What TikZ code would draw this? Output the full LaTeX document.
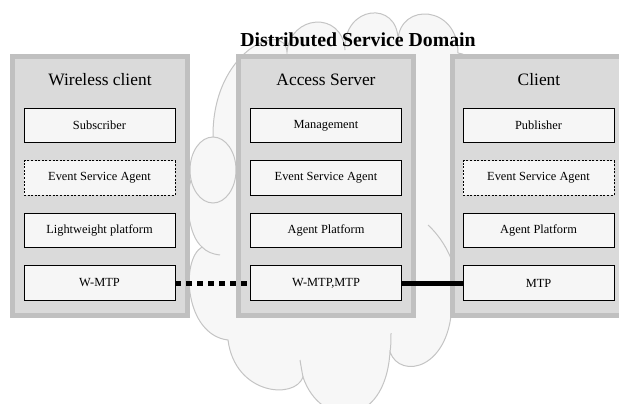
\documentclass[tikz,border=0pt]{standalone}
\usepackage{fontspec}
\setmainfont{Liberation Serif}

\definecolor{hostfill}{HTML}{DADADA}
\definecolor{hostrim}{HTML}{C0C0C0}
\definecolor{layerfill}{HTML}{F6F6F6}
\definecolor{cloudfill}{HTML}{F7F7F7}
\definecolor{cloudline}{HTML}{C4C4C4}

\tikzset{
  host/.style={draw=hostrim, fill=hostfill, line width=5pt, minimum width=175pt, minimum height=259pt, inner sep=0pt},
  hosttitle/.style={anchor=base, font=\fontsize{17.4}{20}\selectfont},
  layer/.style={draw=black, fill=layerfill, line width=0.9pt, minimum width=151pt, minimum height=34.5pt, inner sep=0pt, font=\fontsize{12.4}{14}\selectfont},
  agentlayer/.style={layer, dash pattern=on 2pt off 1.6pt},
  cloud/.style={draw=cloudline, fill=cloudfill, line width=1pt},
  cloudstroke/.style={draw=cloudline, line width=1pt},
}

\begin{document}
\begin{tikzpicture}[x=1pt,y=-1pt]
  \clip (0,0) rectangle (619,404);

  % service domain cloud
  \draw[cloud] (213,137)
    .. controls (212,50) and (285,20) .. (287,52)
    .. controls (290,15) and (342,10) .. (345,50)
    .. controls (343,5) and (398,0) .. (398,40)
    .. controls (400,2) and (458,5) .. (458,53)
    .. controls (500,60) and (500,140) .. (470,150)
    .. controls (505,180) and (495,260) .. (452,300)
    .. controls (452,370) and (400,380) .. (390,352)
    .. controls (385,430) and (320,428) .. (303,377)
    .. controls (295,400) and (235,395) .. (228,340)
    .. controls (185,335) and (180,260) .. (202,247)
    .. controls (188,235) and (185,200) .. (191,180)
    -- cycle;
  \draw[cloud] (213,170) ellipse [x radius=23pt, y radius=33pt];
  \draw[cloudstroke] (202,247) .. controls (207,252) and (212,254) .. (220,255);
  \draw[cloudstroke] (391,333) .. controls (391,340) and (391,346) .. (390,352);
  \draw[cloudstroke] (300,360) .. controls (301,366) and (302,372) .. (303,377);
  \draw[cloudstroke] (428,225) .. controls (440,236) and (450,252) .. (455,270);

  % hosts
  \node[host] (wclient) at (100,186) {};
  \node[host] (aserver) at (326,186) {};
  \node[host] (client) at (540,186) {};
  \node[hosttitle] (wtitle) at (100,85) {Wireless client};
  \node[hosttitle] (atitle) at (326,85) {Access Server};
  \node[hosttitle] (ctitle) at (539,85) {Client};

  % layers of the wireless client
  \node[layer] (wsub) at (99.5,125.5) {Subscriber};
  \node[agentlayer] (wesa) at (99.5,178) {Event Service Agent};
  \node[layer] (wplat) at (99.5,230.5) {Lightweight platform};
  \node[layer] (wmtp) at (99.5,283) {W-MTP};

  % layers of the access server
  \node[layer] (amgmt) at (326,125.5) {Management};
  \node[layer] (aesa) at (326,178) {Event Service Agent};
  \node[layer] (aplat) at (326,230.5) {Agent Platform};
  \node[layer] (amtp) at (326,283) {W-MTP,MTP};

  % layers of the client
  \node[layer] (cpub) at (538.5,125.5) {Publisher};
  \node[agentlayer] (cesa) at (538.5,178) {Event Service Agent};
  \node[layer] (cplat) at (538.5,230.5) {Agent Platform};
  \node[layer] (cmtp) at (538.5,283) {MTP};

  % links
  \draw[line width=5pt, dash pattern=on 6pt off 5pt] (wmtp.east) -- (amtp.west);
  \draw[line width=5pt] (amtp.east) -- (cmtp.west);

  \node[anchor=base, font=\bfseries\fontsize{19.8}{22}\selectfont] (domain) at (358,47) {Distributed Service Domain};
\end{tikzpicture}
\end{document}
